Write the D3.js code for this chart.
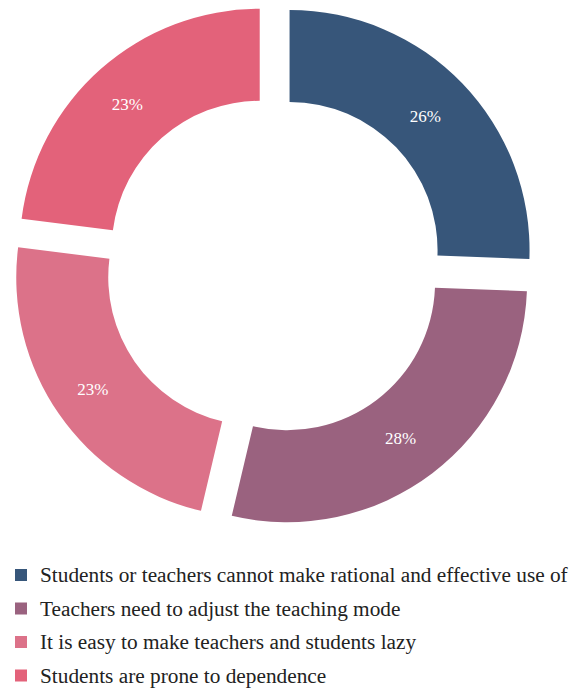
<!DOCTYPE html>
<html>
<head>
<meta charset="utf-8">
<script src="https://cdn.jsdelivr.net/npm/d3@7"></script>
<style>
  body { margin: 0; background: #fff; }
  svg { display: block; }
</style>
</head>
<body>
<div id="chart"></div>
<script>
// Exploded donut, legend underneath
const categories = [
  'Students or teachers cannot make rational and effective use of',
  'Teachers need to adjust the teaching mode',
  'It is easy to make teachers and students lazy',
  'Students are prone to dependence'
]
const shares = [25.6, 28.1, 23.3, 23.0]
const colors = ['#37567a', '#9a627f', '#dc7289', '#e3627a']

const width = 575
const height = 689
const cx = 274
const cy = 265
const outerRadius = 240
const innerRadius = 148
const explode = 21.6

const svg = d3.select('#chart')
  .append('svg')
    .attr('width', width)
    .attr('height', height)

const data = categories.map((c, i) => ({ name: c, value: shares[i], color: colors[i] }))

const pie = d3.pie()
  .value(d => d.value)
  .sort(null)

const arc = d3.arc()
  .innerRadius(innerRadius)
  .outerRadius(outerRadius)

const slices = svg.append('g')
  .attr('transform', `translate(${cx}, ${cy})`)
  .selectAll('g')
  .data(pie(data))
  .enter()
  .append('g')
    .attr('transform', d => {
      const mid = (d.startAngle + d.endAngle) / 2
      return `translate(${Math.sin(mid) * explode}, ${-Math.cos(mid) * explode})`
    })

slices.append('path')
  .attr('d', arc)
  .attr('fill', d => d.data.color)

slices.append('text')
  .attr('transform', d => {
    const [x, y] = arc.centroid(d)
    return `translate(${x - 4}, ${y + 1})`
  })
  .attr('text-anchor', 'middle')
  .attr('dy', '0.35em')
  .attr('font-family', 'Liberation Serif, serif')
  .attr('font-size', 17)
  .attr('fill', '#fff')
  .text(d => Math.round(d.data.value) + '%')

// legend
const legend = svg.append('g')
  .selectAll('g')
  .data(data)
  .enter()
  .append('g')
    .attr('transform', (d, i) => `translate(15, ${575 + i * 33.5})`)

legend.append('rect')
  .attr('x', 0)
  .attr('y', -6)
  .attr('width', 12)
  .attr('height', 12)
  .attr('fill', d => d.color)

legend.append('text')
  .attr('x', 25)
  .attr('dy', '0.35em')
  .attr('font-family', 'Liberation Serif, serif')
  .attr('font-size', 21.3)
  .attr('fill', '#222')
  .text(d => d.name)
</script>
</body>
</html>
